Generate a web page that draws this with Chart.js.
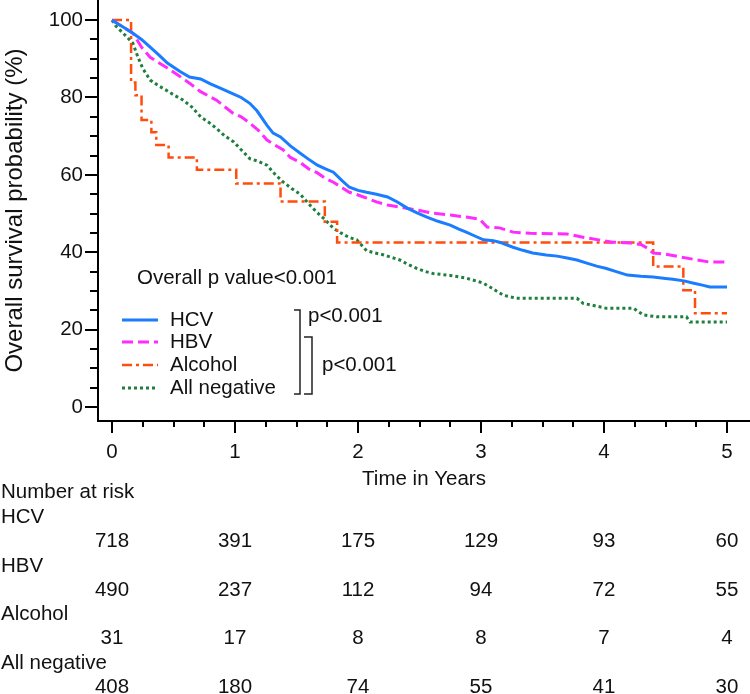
<!DOCTYPE html>
<html><head><meta charset="utf-8">
<script src="https://cdn.jsdelivr.net/npm/chart.js@4.4.1/dist/chart.umd.min.js"></script>
<style>html,body{margin:0;padding:0;background:#fff;}#wrap{width:750px;height:694px;}</style>
</head><body><div id="wrap"><canvas id="c" width="750" height="694"></canvas></div>
<script>
// ---- data ----
const groups = ['HCV', 'HBV', 'Alcohol', 'All negative'];

const hcvT = [0,0.05,0.10,0.17,0.24,0.31,0.38,0.45,0.55,0.63,0.72,0.80,0.88,0.98,1.05,1.12,1.18,1.26,1.31,1.37,1.45,1.53,1.60,1.67,1.74,1.80,1.87,1.93,2.00,2.07,2.15,2.24,2.32,2.40,2.48,2.56,2.65,2.75,2.82,2.88,2.95,3.02,3.10,3.15,3.26,3.34,3.42,3.53,3.62,3.70,3.78,3.86,3.94,4.02,4.10,4.19,4.30,4.40,4.50,4.56,4.65,4.73,4.80,4.86,5.00];
const hcvS = [100,99,98,96.6,95,93,91,88.9,86.8,85.3,84.8,83.5,82.4,81,80,78.5,76.5,72.8,70.8,69.8,67.5,65.6,64,62.5,61.5,60.7,58.5,56.8,56,55.5,55,54.3,53,51.4,50.2,49.1,48,47,46,45.2,44.2,43.2,43,42.6,41.3,40.5,39.8,39.3,39,38.5,38,37.2,36.4,35.8,35,34.1,33.8,33.6,33.2,33,32.6,32,31.5,31,31];

const hbvT = [0,0.05,0.10,0.17,0.24,0.31,0.38,0.45,0.55,0.63,0.72,0.85,0.98,1.05,1.12,1.19,1.26,1.32,1.39,1.45,1.53,1.60,1.67,1.74,1.80,1.88,1.93,2.00,2.07,2.15,2.24,2.34,2.48,2.61,2.75,2.88,2.99,3.05,3.15,3.26,3.40,3.70,3.78,3.86,4.07,4.21,4.30,4.35,4.40,4.50,4.62,4.76,4.85,5.00];
const hbvS = [100,99,98,96.6,93,90.4,89,87.6,85.5,83.7,81.5,79.3,76,75,73.4,71.5,69,67.8,66.5,64.5,63.2,61.5,60.5,59,58.1,56.5,55.5,54.8,54,53,52.2,51.7,50.9,50.1,49.6,49.1,48.5,46.5,46.3,45.2,44.9,44.7,44.2,43.7,42.6,42.4,42,41.1,39.8,39.5,38.8,38,37.5,37.5];

const alcT = [0,0.155,0.19,0.24,0.32,0.36,0.46,0.69,1.01,1.37,1.73,1.83,4.40,4.645,4.74,5.00];
const alcS = [100,83.9,80.6,74.2,71.0,67.7,64.5,61.3,57.8,53.1,47.9,42.5,36.3,30.2,24.2,24.2];

const negT = [0,0.03,0.065,0.12,0.17,0.21,0.25,0.31,0.38,0.44,0.51,0.58,0.65,0.72,0.79,0.85,0.92,0.99,1.05,1.12,1.19,1.26,1.33,1.39,1.46,1.53,1.60,1.66,1.73,1.80,1.86,1.93,1.99,2.07,2.14,2.21,2.28,2.34,2.41,2.48,2.55,2.61,2.75,2.88,2.99,3.02,3.10,3.18,3.29,3.78,3.83,3.95,4.02,4.24,4.32,4.43,4.67,4.70,5.00];
const negS = [100,98.5,97.4,95.7,94,90.5,87.5,84.5,83,81.9,80.5,79.3,77.5,75,73.5,72,70,68.5,66.5,64.2,63.5,62.5,60,58.2,56.5,55,52.5,50.5,48.5,46.2,45,43.8,43.2,40.4,39.8,39.3,38.6,38,36.8,35.8,35,34.5,34,33.3,32.3,32,30.5,28.9,28.1,28.1,26.8,26,25.5,25.5,23.8,23.3,23.3,22,22];

const xTickValues = [0, 1, 2, 3, 4, 5];
const yTickValues = [0, 20, 40, 60, 80, 100];
const riskTimes = [0, 1, 2, 3, 4, 5];
const riskHCV = [718, 391, 175, 129, 93, 60];
const riskHBV = [490, 237, 112, 94, 72, 55];
const riskAlcohol = [31, 17, 8, 8, 7, 4];
const riskNeg = [408, 180, 74, 55, 41, 30];
const overallP = 'Overall p value<0.001';
const pairP = ['p<0.001', 'p<0.001'];

// ---- styling ----
const FONT = "'Liberation Sans', Arial, sans-serif";
const FS = 20.5;
const colors = ['#1a7dff', '#ff2bff', '#ff4d0d', '#1f7f3f'];
const dashes = [[], [11, 5], [10, 4, 3, 4], [3, 3]];
const widths = [3, 3, 2.5, 3];

const pts = (t, s) => t.map((v, i) => ({x: v, y: s[i]}));
const series = [pts(hcvT, hcvS), pts(hbvT, hbvS), pts(alcT, alcS), pts(negT, negS)];
const risks = [riskHCV, riskHBV, riskAlcohol, riskNeg];

Chart.defaults.font.family = FONT;
Chart.defaults.font.size = FS;
Chart.defaults.color = '#111';

const overlay = {
  id: 'overlay',
  afterDraw(chart) {
    const {ctx, chartArea: a} = chart;
    const x = chart.scales.x, y = chart.scales.y;
    ctx.save();
    // tick marks
    ctx.strokeStyle = '#000';
    ctx.lineWidth = 2;
    ctx.beginPath();
    for (let v = 0; v <= 100; v += 5) {
      const py = Math.round(y.getPixelForValue(v));
      const len = v % 20 === 0 ? 13 : 8;
      ctx.moveTo(a.left - len, py); ctx.lineTo(a.left, py);
    }
    for (let i = 0; i <= 20; i++) {
      const px = Math.round(x.getPixelForValue(i * 0.25));
      const len = i % 4 === 0 ? 12 : 6;
      ctx.moveTo(px, a.bottom); ctx.lineTo(px, a.bottom + len);
    }
    ctx.stroke();

    // in-plot legend
    ctx.font = FS + 'px ' + FONT;
    ctx.fillStyle = '#111';
    ctx.textBaseline = 'middle';
    ctx.textAlign = 'left';
    ctx.fillText(overallP, 137, 278);
    const ly = [320, 342, 365, 388];
    chart.data.datasets.forEach((ds, i) => {
      ctx.save();
      ctx.strokeStyle = ds.borderColor;
      ctx.lineWidth = ds.borderWidth;
      ctx.setLineDash(ds.borderDash || []);
      ctx.beginPath(); ctx.moveTo(122, ly[i]); ctx.lineTo(158, ly[i]); ctx.stroke();
      ctx.restore();
      ctx.fillText(ds.label, 170, ly[i]);
    });
    // brackets
    ctx.strokeStyle = '#222';
    ctx.lineWidth = 1.5;
    ctx.beginPath();
    ctx.moveTo(294, 310); ctx.lineTo(300, 310); ctx.lineTo(300, 394); ctx.lineTo(294, 394);
    ctx.moveTo(304, 337); ctx.lineTo(312, 337); ctx.lineTo(312, 394); ctx.lineTo(304, 394);
    ctx.stroke();
    ctx.fillText(pairP[0], 308, 316);
    ctx.fillText(pairP[1], 322, 365);

    // number at risk table
    ctx.fillText('Number at risk', 1, 492);
    const rowY = [517, 566, 614, 663];
    groups.forEach((g, i) => {
      ctx.textAlign = 'left';
      ctx.fillText(g, 1, rowY[i]);
      ctx.textAlign = 'center';
      risks[i].forEach((n, j) => ctx.fillText(String(n), x.getPixelForValue(riskTimes[j]), rowY[i] + 24.5));
    });
    ctx.restore();
  }
};

const zeroPad = s => { s.paddingLeft = 0; s.paddingRight = 0; s.paddingTop = 0; s.paddingBottom = 0; };

new Chart(document.getElementById('c'), {
  type: 'line',
  data: {
    datasets: series.map((d, i) => ({
      label: groups[i],
      data: d,
      borderColor: colors[i],
      borderWidth: widths[i],
      borderDash: dashes[i],
      pointRadius: 0,
      fill: false,
      tension: 0,
      stepped: i === 2 ? 'before' : false,
      borderCapStyle: 'butt',
      borderJoinStyle: 'miter'
    }))
  },
  options: {
    responsive: false,
    animation: false,
    devicePixelRatio: 1,
    layout: {padding: {left: 0, right: 0, top: 0, bottom: 198}},
    plugins: {legend: {display: false}, tooltip: {enabled: false}},
    scales: {
      x: {
        type: 'linear', min: -0.114, max: 5.187,
        grid: {display: false, drawTicks: false},
        border: {display: true, color: '#000', width: 2},
        afterBuildTicks: s => { s.ticks = xTickValues.map(v => ({value: v})); },
        ticks: {padding: 19, color: '#111', maxRotation: 0, autoSkip: false, font: {size: FS}},
        title: {display: true, text: 'Time in Years', color: '#111', font: {size: FS}, padding: {top: 4, bottom: 4}},
        afterFit: s => { s.height = 75; zeroPad(s); }
      },
      y: {
        type: 'linear', min: -3.62, max: 105.2,
        grid: {display: false, drawTicks: false},
        border: {display: true, color: '#000', width: 2},
        afterBuildTicks: s => { s.ticks = yTickValues.map(v => ({value: v})); },
        ticks: {padding: 15, color: '#111', autoSkip: false, font: {size: FS}},
        title: {display: true, text: 'Overall survival probability (%)', color: '#111', font: {size: 24}, padding: {top: 1, bottom: 1}},
        afterFit: s => { s.width = 98; zeroPad(s); }
      }
    }
  },
  plugins: [overlay]
});
</script>
</body></html>
